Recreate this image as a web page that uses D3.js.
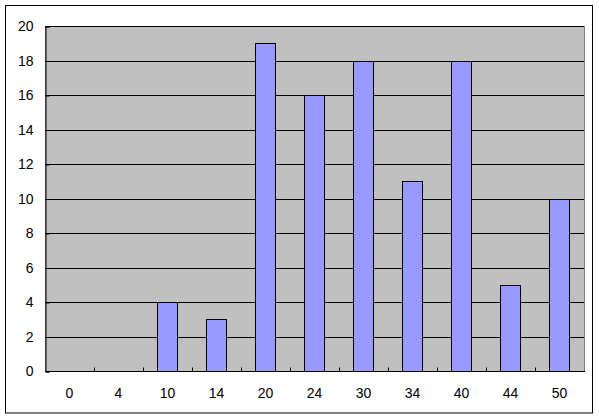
<!DOCTYPE html>
<meta charset="utf-8">
<style>
body { margin: 0; background: #fff; }
text { font-family: "Liberation Sans", Arial, sans-serif; font-size: 14px; fill: #000; }
</style>
<body>
<script src="https://d3js.org/d3.v7.min.js"></script>
<script>
// data
var categories = ["0", "4", "10", "14", "20", "24", "30", "34", "40", "44", "50"];
var counts = [0, 0, 4, 3, 19, 16, 18, 11, 18, 5, 10];
var yTicks = [0, 2, 4, 6, 8, 10, 12, 14, 16, 18, 20];

var W = 599, H = 419;
var plot = {left: 45, top: 26, right: 584, bottom: 371};

var svg = d3.select("body").append("svg")
    .attr("width", W)
    .attr("height", H);

// outer chart frame
svg.append("rect")
    .attr("x", 5.5).attr("y", 5.5)
    .attr("width", 587).attr("height", 407.5)
    .attr("fill", "#fff")
    .attr("stroke", "#000");

var x = d3.scaleBand()
    .domain(categories)
    .range([plot.left, plot.right])
    .paddingInner(0.59)
    .paddingOuter(0.295);

var band = d3.scaleBand()
    .domain(categories)
    .range([plot.left, plot.right]);

var y = d3.scaleLinear()
    .domain([0, 20])
    .range([plot.bottom, plot.top]);

// plot area
svg.append("rect")
    .attr("x", plot.left + 0.5).attr("y", plot.top + 0.5)
    .attr("width", plot.right - plot.left).attr("height", plot.bottom - plot.top)
    .attr("fill", "#c0c0c0")
    .attr("stroke", "#808080");

// gridlines
svg.append("g")
  .selectAll("line")
  .data(yTicks.filter(function(d) { return d > 0; }))
  .enter().append("line")
    .attr("x1", plot.left).attr("x2", plot.right)
    .attr("y1", function(d) { return Math.round(y(d)) + 0.5; })
    .attr("y2", function(d) { return Math.round(y(d)) + 0.5; })
    .attr("stroke", "#000")
    .attr("shape-rendering", "crispEdges");

// bars
svg.append("g")
  .selectAll("rect")
  .data(counts)
  .enter().append("rect")
    .attr("x", function(d, i) { return Math.round(x(categories[i])) + 0.5; })
    .attr("y", function(d) { return Math.round(y(d)) + 0.5; })
    .attr("width", Math.round(x.bandwidth()))
    .attr("height", function(d) { return Math.round(y(0)) - Math.round(y(d)); })
    .attr("fill", "#9999ff")
    .attr("stroke", "#000")
    .style("display", function(d) { return d > 0 ? null : "none"; });

// y axis
var yAxis = svg.append("g")
    .attr("transform", "translate(" + (plot.left + 0.5) + ",0.5)")
    .call(d3.axisLeft(y).tickValues(yTicks).tickSize(-4).tickPadding(12)
      .tickFormat(d3.format("d")));
yAxis.select(".domain").attr("stroke", "#000");
yAxis.selectAll("text").attr("font-family", null).attr("fill", "#000");

// x axis
var bottomAxis = svg.append("g")
    .attr("transform", "translate(0," + (plot.bottom + 0.5) + ")");
bottomAxis.append("line")
    .attr("x1", plot.left).attr("x2", plot.right + 1)
    .attr("stroke", "#000");
bottomAxis.selectAll(".tk")
  .data(categories.slice(1))
  .enter().append("line")
    .attr("class", "tk")
    .attr("x1", function(d) { return Math.round(band(d)) + 0.5; })
    .attr("x2", function(d) { return Math.round(band(d)) + 0.5; })
    .attr("y1", 0).attr("y2", -4)
    .attr("stroke", "#000");
bottomAxis.selectAll("text")
  .data(categories)
  .enter().append("text")
    .attr("x", function(d) { return band(d) + band.bandwidth() / 2; })
    .attr("y", 26)
    .attr("text-anchor", "middle")
    .text(function(d) { return d; });
</script>
</body>
